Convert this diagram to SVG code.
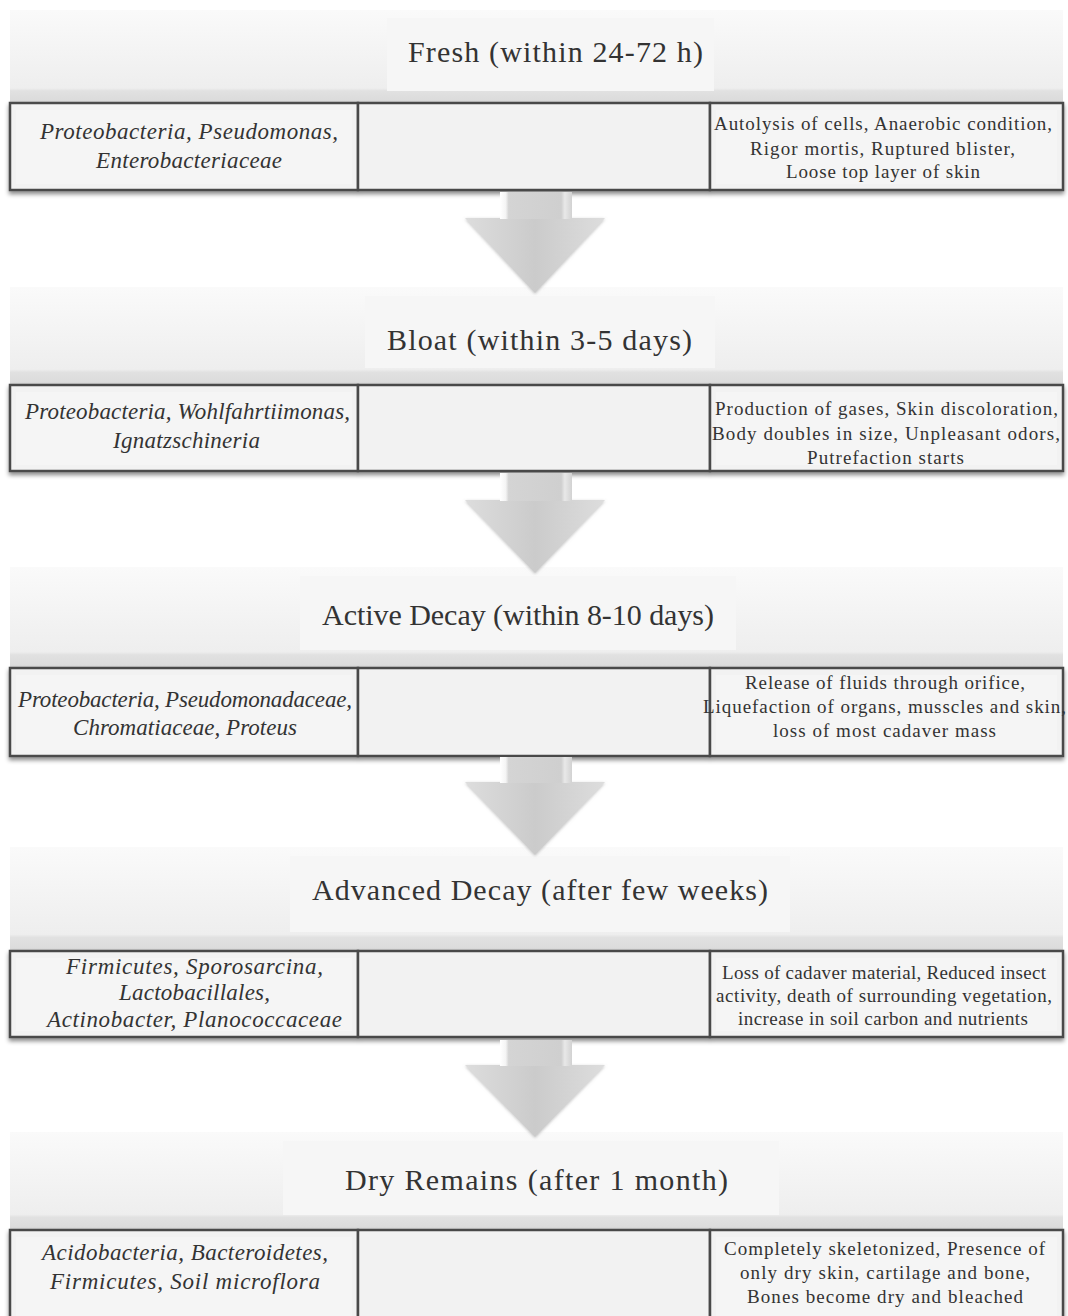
<svg xmlns="http://www.w3.org/2000/svg" width="1068" height="1316" viewBox="0 0 1068 1316">
<defs>
<linearGradient id="hdr" x1="0" y1="0" x2="0" y2="1">
<stop offset="0" stop-color="#fafafa"/>
<stop offset="0.84" stop-color="#eeeeee"/>
<stop offset="0.87" stop-color="#e1e1e1"/>
<stop offset="1" stop-color="#dadada"/>
</linearGradient>
<linearGradient id="arr" x1="0" y1="0" x2="1" y2="0">
<stop offset="0" stop-color="#dddddd"/>
<stop offset="0.5" stop-color="#cbcbcb"/>
<stop offset="1" stop-color="#dddddd"/>
</linearGradient>
<linearGradient id="shaft" x1="0" y1="0" x2="1" y2="0">
<stop offset="0" stop-color="#ffffff"/>
<stop offset="0.08" stop-color="#f4f4f4"/>
<stop offset="0.12" stop-color="#d4d4d4"/>
<stop offset="0.85" stop-color="#cfcfcf"/>
<stop offset="0.9" stop-color="#e8e8e8"/>
<stop offset="1" stop-color="#d2d2d2"/>
</linearGradient>
<filter id="sh" x="-5%" y="-20%" width="110%" height="150%">
<feDropShadow dx="0" dy="3" stdDeviation="2" flood-color="#000" flood-opacity="0.45"/>
</filter>
<filter id="ash" x="-20%" y="-20%" width="140%" height="140%">
<feDropShadow dx="0" dy="1" stdDeviation="1.5" flood-color="#888" flood-opacity="0.5"/>
</filter>
</defs>
<style>
.hdr{fill:url(#hdr);}
.tbox{fill:#f6f6f6;}
.box{fill:#f2f2f2;stroke:#4a4a4a;stroke-width:2.5;}
.inner{fill:#f5f5f5;}
.ht{font-family:"Liberation Serif","DejaVu Serif",serif;font-size:30px;fill:#333;}
.bt{font-family:"Liberation Serif","DejaVu Serif",serif;font-size:23px;font-style:italic;fill:#333;}
.rt{font-family:"Liberation Serif","DejaVu Serif",serif;font-size:19px;fill:#333;}
.arrow{fill:url(#arr);filter:url(#ash);}
</style>
<rect width="1068" height="1316" fill="#fff"/>

<g id="stage1">
<rect class="hdr" x="10" y="10" width="1053" height="93"/>
<rect class="tbox" x="387" y="18" width="327" height="73"/>
<text class="ht" x="408" y="62" textLength="295" font-size="31">Fresh (within 24-72 h)</text>
<g filter="url(#sh)">
<rect class="box" x="10" y="103" width="348" height="87"/>
<rect class="box" x="358" y="103" width="352" height="87"/>
<rect class="box" x="710" y="103" width="353" height="87"/>
</g>
<rect class="inner" x="16" y="110" width="336" height="74"/>
<rect class="inner" x="716" y="110" width="341" height="74"/>
<text class="bt" x="40" y="139" textLength="298" font-size="24">Proteobacteria, Pseudomonas,</text>
<text class="bt" x="96" y="168" textLength="186" font-size="24">Enterobacteriaceae</text>
<text class="rt" x="714" y="130" textLength="338" font-size="20">Autolysis of cells, Anaerobic condition,</text>
<text class="rt" x="750" y="155" textLength="265" font-size="20">Rigor mortis, Ruptured blister,</text>
<text class="rt" x="786" y="178" textLength="194" font-size="20">Loose top layer of skin</text>
</g>

<g id="stage2">
<rect class="hdr" x="10" y="287" width="1053" height="98"/>
<rect class="tbox" x="365" y="296" width="350" height="72"/>
<text class="ht" x="387" y="350" textLength="305">Bloat (within 3-5 days)</text>
<g filter="url(#sh)">
<rect class="box" x="10" y="385" width="348" height="86"/>
<rect class="box" x="358" y="385" width="352" height="86"/>
<rect class="box" x="710" y="385" width="353" height="86"/>
</g>
<rect class="inner" x="16" y="392" width="336" height="73"/>
<rect class="inner" x="716" y="392" width="341" height="73"/>
<text class="bt" x="25" y="419" textLength="325">Proteobacteria, Wohlfahrtiimonas,</text>
<text class="bt" x="113" y="448" textLength="147">Ignatzschineria</text>
<text class="rt" x="715" y="415" textLength="343">Production of gases, Skin discoloration,</text>
<text class="rt" x="712" y="440" textLength="348">Body doubles in size, Unpleasant odors,</text>
<text class="rt" x="807" y="464" textLength="157">Putrefaction starts</text>
</g>

<g id="stage3">
<rect class="hdr" x="10" y="567" width="1053" height="101"/>
<rect class="tbox" x="300" y="576" width="436" height="74"/>
<text class="ht" x="322" y="625" textLength="392">Active Decay (within 8-10 days)</text>
<g filter="url(#sh)">
<rect class="box" x="10" y="668" width="348" height="88"/>
<rect class="box" x="358" y="668" width="352" height="88"/>
<rect class="box" x="710" y="668" width="353" height="88"/>
</g>
<rect class="inner" x="16" y="675" width="336" height="75"/>
<rect class="inner" x="716" y="675" width="341" height="75"/>
<text class="bt" x="18" y="707" textLength="334">Proteobacteria, Pseudomonadaceae,</text>
<text class="bt" x="73" y="735" textLength="224">Chromatiaceae, Proteus</text>
<text class="rt" x="745" y="689" textLength="280">Release of fluids through orifice,</text>
<text class="rt" x="703" y="713" textLength="363">Liquefaction of organs, musscles and skin,</text>
<text class="rt" x="773" y="737" textLength="223">loss of most cadaver mass</text>
</g>

<g id="stage4">
<rect class="hdr" x="10" y="847" width="1053" height="104"/>
<rect class="tbox" x="290" y="856" width="500" height="76"/>
<text class="ht" x="312" y="900" textLength="456">Advanced Decay (after few weeks)</text>
<g filter="url(#sh)">
<rect class="box" x="10" y="951" width="348" height="86"/>
<rect class="box" x="358" y="951" width="352" height="86"/>
<rect class="box" x="710" y="951" width="353" height="86"/>
</g>
<rect class="inner" x="16" y="958" width="336" height="73"/>
<rect class="inner" x="716" y="958" width="341" height="73"/>
<text class="bt" x="66" y="974" textLength="257">Firmicutes, Sporosarcina,</text>
<text class="bt" x="119" y="1000" textLength="151">Lactobacillales,</text>
<text class="bt" x="47" y="1027" textLength="295">Actinobacter, Planococcaceae</text>
<text class="rt" x="722" y="979" textLength="324" font-size="18">Loss of cadaver material, Reduced insect</text>
<text class="rt" x="716" y="1002" textLength="336" font-size="18">activity, death of surrounding vegetation,</text>
<text class="rt" x="738" y="1025" textLength="290" font-size="18">increase in soil carbon and nutrients</text>
</g>

<g id="stage5">
<rect class="hdr" x="10" y="1132" width="1053" height="98"/>
<rect class="tbox" x="283" y="1141" width="496" height="74"/>
<text class="ht" x="345" y="1190" textLength="383">Dry Remains (after 1 month)</text>
<g filter="url(#sh)">
<rect class="box" x="10" y="1230" width="348" height="90"/>
<rect class="box" x="358" y="1230" width="352" height="90"/>
<rect class="box" x="710" y="1230" width="353" height="90"/>
</g>
<rect class="inner" x="16" y="1237" width="336" height="79"/>
<rect class="inner" x="716" y="1237" width="341" height="79"/>
<text class="bt" x="42" y="1260" textLength="286" font-size="24">Acidobacteria, Bacteroidetes,</text>
<text class="bt" x="50" y="1289" textLength="270" font-size="24">Firmicutes, Soil microflora</text>
<text class="rt" x="724" y="1255" textLength="321" font-size="20">Completely skeletonized, Presence of</text>
<text class="rt" x="740" y="1279" textLength="290" font-size="20">only dry skin, cartilage and bone,</text>
<text class="rt" x="747" y="1303" textLength="276" font-size="20">Bones become dry and bleached</text>
</g>

<g id="connectors">
<g>
<path class="arrow" d="M465 218 H605 L535 293 Z"/>
<rect x="500" y="192" width="72" height="27" fill="url(#shaft)"/>
</g>
<g>
<path class="arrow" d="M465 500 H605 L535 573 Z"/>
<rect x="500" y="473" width="72" height="28" fill="url(#shaft)"/>
</g>
<g>
<path class="arrow" d="M465 782 H605 L535 855 Z"/>
<rect x="500" y="757" width="72" height="26" fill="url(#shaft)"/>
</g>
<g>
<path class="arrow" d="M465 1065 H605 L535 1137 Z"/>
<rect x="500" y="1040" width="72" height="26" fill="url(#shaft)"/>
</g>
</g>
</svg>
